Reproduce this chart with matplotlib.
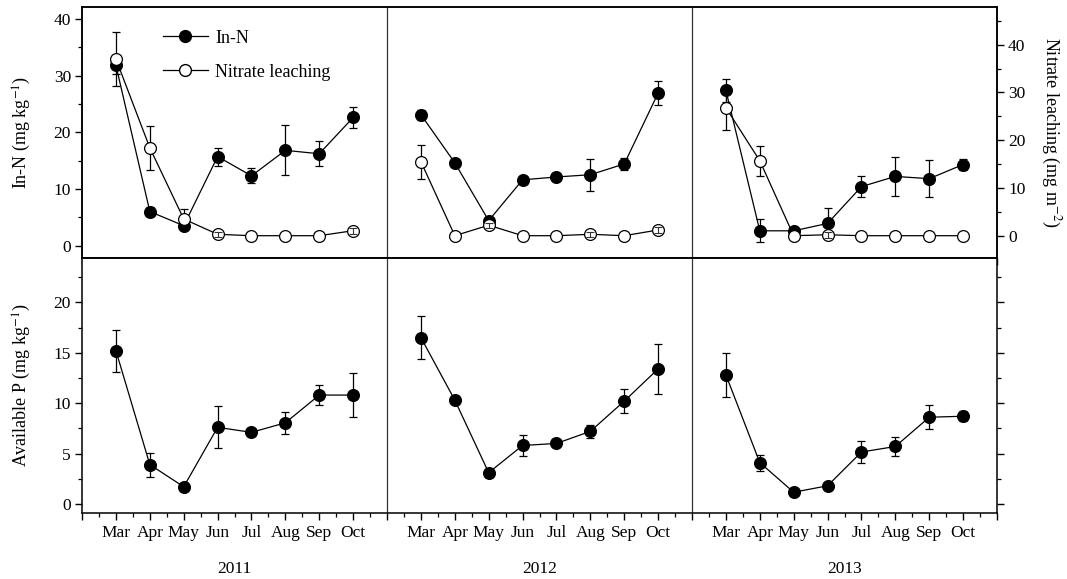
import numpy as np
import matplotlib
matplotlib.use('Agg')
import matplotlib.pyplot as plt
from matplotlib.lines import Line2D
from matplotlib.ticker import FixedLocator, MultipleLocator, NullFormatter
import matplotlib.transforms as mtransforms

plt.rcParams['font.family'] = ['Liberation Serif', 'DejaVu Serif']
plt.rcParams['mathtext.fontset'] = 'stix'

months = ['Mar', 'Apr', 'May', 'Jun', 'Jul', 'Aug', 'Sep', 'Oct']
years = ['2011', '2012', '2013']

# In-N (mg kg-1), one row per year
inn_mean = [[31.8, 6.0, 3.5, 15.7, 12.3, 16.8, 16.2, 22.6],
            [23.1, 14.6, 4.4, 11.6, 12.1, 12.5, 14.4, 26.9],
            [27.4, 2.6, 2.6, 3.9, 10.4, 12.2, 11.8, 14.3]]
inn_err = [[1.5, 0.8, 0.5, 1.6, 1.3, 4.4, 2.2, 1.8],
           [0.9, 0.3, 0.5, 0.5, 0.3, 2.8, 1.1, 2.1],
           [2.0, 2.0, 0.3, 2.7, 1.9, 3.4, 3.3, 0.9]]

# Nitrate leaching (mg m-2)
nit_mean = [[37.0, 18.4, 3.5, 0.3, 0.0, 0.0, 0.0, 1.05],
            [15.5, 0.0, 2.2, 0.0, 0.0, 0.3, 0.0, 1.2],
            [26.8, 15.7, 0.0, 0.2, 0.0, 0.0, 0.0, 0.0]]
nit_err = [[5.7, 4.6, 2.0, 0.5, 0.0, 0.0, 0.0, 0.6],
           [3.6, 0.0, 0.5, 0.0, 0.0, 0.5, 0.0, 0.6],
           [4.6, 3.1, 0.0, 0.6, 0.0, 0.0, 0.0, 0.0]]

# Available P (mg kg-1)
avp_mean = [[15.2, 3.9, 1.7, 7.6, 7.1, 8.05, 10.8, 10.8],
            [16.5, 10.3, 3.1, 5.8, 6.0, 7.2, 10.2, 13.4],
            [12.8, 4.1, 1.16, 1.8, 5.15, 5.7, 8.6, 8.7]]
avp_err = [[2.1, 1.2, 0.4, 2.1, 0.2, 1.1, 1.0, 2.2],
           [2.1, 0.2, 0.4, 1.0, 0.2, 0.65, 1.2, 2.5],
           [2.2, 0.8, 0.2, 0.3, 1.1, 0.95, 1.2, 0.5]]

FS = 12.5
LFS = 13
MS = 8.5
LW = 0.9


def xpos(i):
    # one month per unit, a blank month between years
    return 1 + 9 * i + np.arange(len(months))


def draw_series(ax, means, errs, face, small_on_top=False):
    for i in range(len(years)):
        x = xpos(i)
        y = np.array(means[i])
        e = np.array(errs[i])
        ax.errorbar(x, y, yerr=e, fmt='none', ecolor='black', elinewidth=LW,
                    capsize=3, capthick=LW, zorder=2)
        ax.plot(x, y, '-', color='black', lw=LW, marker='o', ms=MS,
                mfc=face, mec='black', mew=0.9, zorder=3)
        if small_on_top:
            s = (e > 0) & (e < 1.2)
            if s.any():
                ax.errorbar(x[s], y[s], yerr=e[s], fmt='none', ecolor='#333333',
                            elinewidth=0.8, capsize=3, capthick=0.8, zorder=4)


def style_x(ax, labels):
    major = np.arange(0, 28)
    ax.xaxis.set_major_locator(FixedLocator(major))
    ax.xaxis.set_minor_locator(FixedLocator(major[:-1] + 0.5))
    if labels:
        lab = []
        for k in major:
            m = (k - 1) % 9
            lab.append(months[m] if (k % 9 != 0) else '')
        ax.set_xticklabels(lab, fontsize=FS)
    else:
        ax.xaxis.set_major_formatter(NullFormatter())
    ax.set_xlim(0, 27)


fig = plt.figure(figsize=(10.67, 5.79), dpi=100)
ax_top = fig.add_axes([0.0769, 0.5544, 0.8575, 0.4335])
ax_bot = fig.add_axes([0.0769, 0.1140, 0.8575, 0.4404])

for ax in (ax_top, ax_bot):
    for sp in ax.spines.values():
        sp.set_linewidth(1.1)
    ax.tick_params(which='major', direction='out', length=5, width=1.0, labelsize=FS, pad=3)
    ax.tick_params(which='minor', direction='out', length=3, width=0.9)
    for xs in (9, 18):
        ax.axvline(xs, color='#333333', lw=0.9, zorder=1)

# top panel
style_x(ax_top, False)
ax_top.set_ylim(-2.2, 42.1)
ax_top.yaxis.set_major_locator(MultipleLocator(10))
ax_top.yaxis.set_minor_locator(MultipleLocator(5))
draw_series(ax_top, inn_mean, inn_err, 'black')
ax_top.set_ylabel('In-N (mg kg$^{-1}$)', fontsize=LFS, va='center')
ax_top.yaxis.set_label_coords(-0.066, 0.5)

ax_r = ax_top.twinx()
ax_r.set_ylim(-4.67, 47.9)
ax_r.yaxis.set_major_locator(MultipleLocator(10))
ax_r.yaxis.set_minor_locator(MultipleLocator(5))
ax_r.tick_params(which='major', direction='out', length=5, width=1.0, labelsize=FS, pad=3)
ax_r.tick_params(which='minor', direction='out', length=3, width=0.9)
for sp in ax_r.spines.values():
    sp.set_linewidth(1.1)
draw_series(ax_r, nit_mean, nit_err, 'white', small_on_top=True)
ax_r.set_ylabel('Nitrate leaching (mg m$^{-2}$)', fontsize=LFS,
                rotation=-90, va='center')
ax_r.yaxis.set_label_coords(1.058, 0.5)

handles = [Line2D([], [], color='black', lw=LW, marker='o', ms=MS, mfc='black', mec='black'),
           Line2D([], [], color='black', lw=LW, marker='o', ms=MS, mfc='white', mec='black')]
ax_r.legend(handles, ['In-N', 'Nitrate leaching'], loc='upper left',
            bbox_to_anchor=(0.088, 0.91), frameon=False, fontsize=LFS,
            handlelength=2.5, handletextpad=0.4, labelspacing=0.95,
            borderpad=0, borderaxespad=0, numpoints=1)

# bottom panel
style_x(ax_bot, True)
ax_bot.set_ylim(-0.9, 24.4)
ax_bot.yaxis.set_major_locator(MultipleLocator(5))
ax_bot.yaxis.set_minor_locator(MultipleLocator(2.5))
ax_bot.tick_params(axis='y', which='both', right=True)
ax_bot.tick_params(axis='x', which='major', pad=4)
draw_series(ax_bot, avp_mean, avp_err, 'black')
ax_bot.set_ylabel('Available P (mg kg$^{-1}$)', fontsize=LFS, va='center')
ax_bot.yaxis.set_label_coords(-0.066, 0.5)

trans = mtransforms.blended_transform_factory(ax_bot.transData, ax_bot.transAxes)
for i, yr in enumerate(years):
    ax_bot.text(4.5 + 9 * i, -0.218, yr, transform=trans, ha='center',
                va='center', fontsize=FS)

fig.savefig('out.png', dpi=100)
